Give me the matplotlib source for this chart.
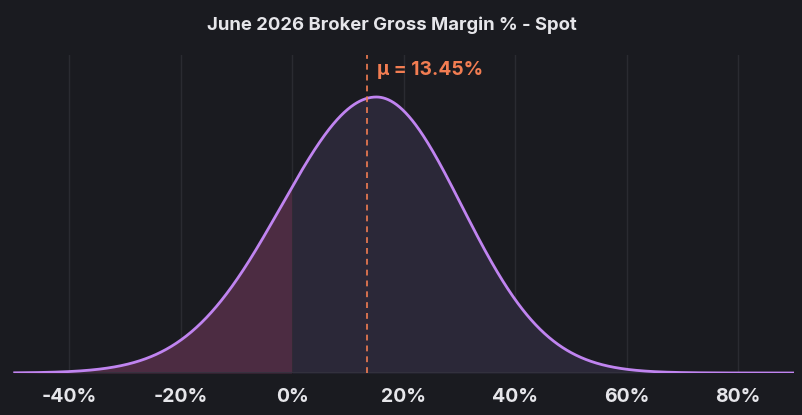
import numpy as np
import matplotlib
matplotlib.use("Agg")
import matplotlib.pyplot as plt

# ---- data ----
title = "June 2026 Broker Gross Margin % - Spot"
mean_pct = 13.45          # labelled mean
mode_pct = 15.1           # peak of the density curve
sigma_left = 17.0         # spread left of the peak
sigma_right = 15.3        # spread right of the peak
x_min, x_max = -50, 90
split_pct = 0             # shading changes at 0%
tick_values = [-40, -20, 0, 20, 40, 60, 80]
tick_labels = ["-40%", "-20%", "0%", "20%", "40%", "60%", "80%"]

# ---- styling ----
bg = "#1a1b20"
grid_c = "#2a2b31"
line_c = "#c084f0"
neg_fill = "#4c2c42"
pos_fill = "#2b2838"
mean_c = "#f27d52"
text_c = "#e6e6ea"

x = np.linspace(x_min, x_max, 1400)
sig = np.where(x < mode_pct, sigma_left, sigma_right)
y = np.exp(-0.5 * ((x - mode_pct) / sig) ** 2)

fig = plt.figure(figsize=(8.02, 4.15), dpi=100, facecolor=bg)
W, H = 802, 415
left, right = 13.3 / W, 794 / W
bottom, top = (H - 373) / H, (H - 55) / H
ax = fig.add_axes([left, bottom, right - left, top - bottom], facecolor=bg)

ax.set_xlim(x_min, x_max)
peak_frac = (373 - 97) / (373 - 55)
ax.set_ylim(0, 1 / peak_frac)

for t in tick_values:
    ax.axvline(t, color=grid_c, lw=1, zorder=0)

ax.fill_between(x, 0, y, where=x <= split_pct, color=neg_fill, lw=0, zorder=1)
ax.fill_between(x, 0, y, where=x >= split_pct, color=pos_fill, lw=0, zorder=1)
ax.axhline(0, color="#34333f", lw=1.2, zorder=2)
ax.plot(x, y, color=line_c, lw=2, zorder=3, solid_capstyle="butt")

ax.axvline(mean_pct, color=mean_c, lw=1.2, ls=(0, (3.5, 3)), zorder=4)
ax.text(mean_pct + 1.8, (373 - 70) / (373 - 55) / peak_frac, f"\u03bc = {mean_pct:.2f}%",
        color=mean_c, fontsize=13.8, fontweight="bold", family=["Inter", "DejaVu Sans"],
        ha="left", va="center", zorder=5)

ax.set_xticks(tick_values)
ax.set_xticklabels(tick_labels)
ax.tick_params(axis="x", length=0, pad=11, labelsize=14, labelcolor=text_c)
for lab in ax.get_xticklabels():
    lab.set_fontweight("bold")
    lab.set_family(["Inter", "DejaVu Sans"])
ax.set_yticks([])
for s in ax.spines.values():
    s.set_visible(False)

fig.text(392 / W, 1 - 25 / H, title, color=text_c, fontsize=13.3, fontweight="bold",
         family=["Inter", "DejaVu Sans"], ha="center", va="center")

fig.savefig("out.png", dpi=100, facecolor=bg)
